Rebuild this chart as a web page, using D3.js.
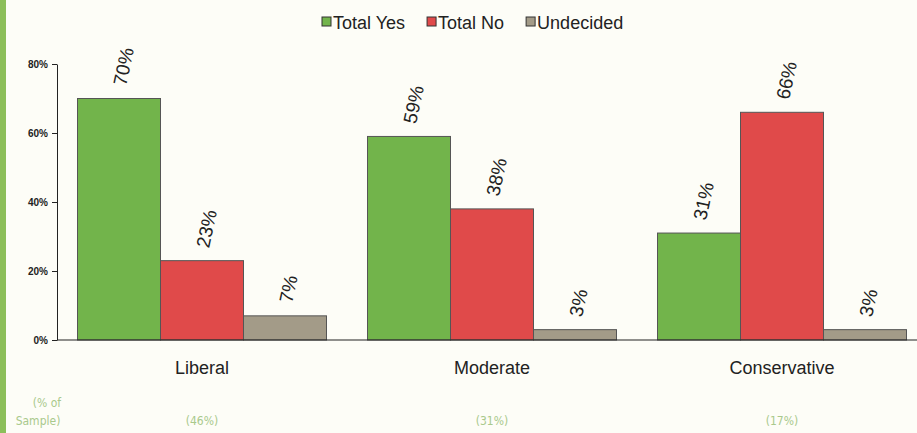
<!DOCTYPE html>
<html>
<head>
<meta charset="utf-8">
<script src="https://cdn.jsdelivr.net/npm/d3@7"></script>
<style>
  html, body { margin: 0; padding: 0; background: #fdfdf7; }
  svg { display: block; font-family: Arial, "Liberation Sans", sans-serif; }
</style>
</head>
<body>
<svg id="chart"></svg>
<script>
// data
const categories = ["Liberal", "Moderate", "Conservative"];
const sampleShares = ["(46%)", "(31%)", "(17%)"];
const seriesNames = ["Total Yes", "Total No", "Undecided"];
const totalYes = [70, 59, 31];
const totalNo = [23, 38, 66];
const undecided = [7, 3, 3];
const yTicks = [0, 20, 40, 60, 80];

const width = 917, height = 433;
const marginLeft = 57, marginTop = 64, baseline = 340;

const colors = ["#72b44b", "#e04a4a", "#a39b88"];
const seriesValues = [totalYes, totalNo, undecided];

const rows = categories.map((c, i) => ({
  category: c,
  share: sampleShares[i],
  values: seriesNames.map((s, j) => ({ series: s, value: seriesValues[j][i] }))
}));

const svg = d3.select("#chart")
    .attr("width", width)
    .attr("height", height)
    .attr("viewBox", [0, 0, width, height]);

svg.append("rect")
    .attr("width", width).attr("height", height)
    .attr("fill", "#fdfdf7");

// green strip on the left edge of the scan
svg.append("rect")
    .attr("x", 0).attr("y", 0)
    .attr("width", 6).attr("height", height)
    .attr("fill", "#8cbf5a");

const x0 = d3.scaleBand()
    .domain(categories)
    .range([marginLeft, marginLeft + 870])
    .paddingInner(0.1414)
    .paddingOuter(0.0707);

const x1 = d3.scaleBand()
    .domain(seriesNames)
    .range([0, x0.bandwidth()]);

const y = d3.scaleLinear()
    .domain([0, 80])
    .range([baseline, marginTop]);

const color = d3.scaleOrdinal(seriesNames, colors);

// y axis
svg.append("g")
    .attr("transform", `translate(${marginLeft},0)`)
    .call(d3.axisLeft(y).tickValues(yTicks).tickFormat(d => d + "%").tickSize(5).tickSizeOuter(0))
    .call(g => g.select(".domain").attr("stroke", "#222"))
    .call(g => g.selectAll(".tick line").attr("stroke", "#222"))
    .call(g => g.selectAll(".tick text")
        .attr("fill", "#222")
        .attr("font-size", 10)
        .attr("font-weight", "bold")
        .attr("x", -9));

// bars
const groups = svg.append("g")
  .selectAll("g")
  .data(rows)
  .join("g")
    .attr("transform", d => `translate(${x0(d.category)},0)`);

groups.selectAll("rect")
  .data(d => d.values)
  .join("rect")
    .attr("x", d => x1(d.series))
    .attr("y", d => y(d.value))
    .attr("width", x1.bandwidth())
    .attr("height", d => y(0) - y(d.value))
    .attr("fill", d => color(d.series))
    .attr("stroke", "#555")
    .attr("stroke-width", 1);

groups.selectAll("text.value")
  .data(d => d.values)
  .join("text")
    .attr("class", "value")
    .attr("transform", d => `translate(${x1(d.series) + x1.bandwidth() / 2 + 7},${y(d.value) - 12}) rotate(-78)`)
    .attr("font-size", 19)
    .attr("fill", "#222")
    .attr("text-anchor", "start")
    .text(d => d.value + "%");

// x axis line
svg.append("line")
    .attr("x1", marginLeft).attr("x2", width)
    .attr("y1", y(0)).attr("y2", y(0))
    .attr("stroke", "#222")
    .attr("stroke-width", 1.2);

// category labels
svg.append("g")
  .selectAll("text")
  .data(categories)
  .join("text")
    .attr("x", d => x0(d) + x0.bandwidth() / 2)
    .attr("y", 374)
    .attr("text-anchor", "middle")
    .attr("font-size", 18)
    .attr("fill", "#222")
    .text(d => d);

// sample share row
const light = "#a9c98c";
const narrow = "'Liberation Sans Narrow', 'DejaVu Sans Condensed', sans-serif";
svg.append("g")
  .selectAll("text")
  .data(sampleShares)
  .join("text")
    .attr("x", (d, i) => x0(categories[i]) + x0.bandwidth() / 2)
    .attr("y", 425)
    .attr("text-anchor", "middle")
    .attr("font-size", 12)
    .attr("font-family", narrow)
    .attr("fill", light)
    .text(d => d);

svg.append("text")
    .attr("x", 47).attr("y", 407)
    .attr("text-anchor", "middle")
    .attr("font-size", 12)
    .attr("font-family", narrow)
    .attr("fill", light)
    .text("(% of");
svg.append("text")
    .attr("x", 38).attr("y", 425)
    .attr("text-anchor", "middle")
    .attr("font-size", 12)
    .attr("font-family", narrow)
    .attr("fill", light)
    .text("Sample)");

// legend
const legend = svg.append("g").attr("transform", "translate(322,0)");
let lx = 0;
seriesNames.forEach((s, i) => {
  const item = legend.append("g").attr("transform", `translate(${lx},0)`);
  item.append("rect")
      .attr("x", 0).attr("y", 17)
      .attr("width", 9).attr("height", 9)
      .attr("fill", color(s))
      .attr("stroke", "#333")
      .attr("stroke-width", 1);
  const t = item.append("text")
      .attr("x", 11).attr("y", 29)
      .attr("font-size", 18)
      .attr("fill", "#222")
      .text(s);
  lx += 11 + t.node().getComputedTextLength() + 22;
});
</script>
</body>
</html>
